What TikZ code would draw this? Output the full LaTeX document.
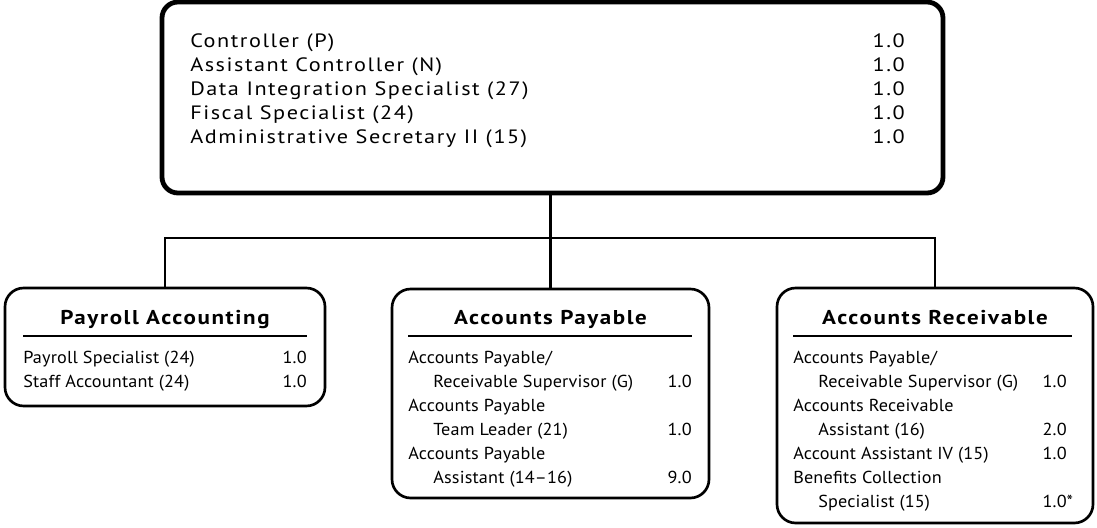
\documentclass[tikz,border=0pt]{standalone}
\usepackage{fontspec}
\setmainfont{PT Sans}
\newfontfamily\headfont[FakeStretch=1.15, LetterSpace=8]{PT Sans}
\newfontfamily\titlefont[FakeStretch=1.15, LetterSpace=8]{PT Sans}
\newfontfamily\rowfont[FakeStretch=1.05, LetterSpace=1]{PT Sans}

\tikzset{
  headbox/.style={draw, line width=3.6pt, rounded corners=12pt, inner sep=0pt},
  unitbox/.style={draw, line width=2pt, rounded corners=14pt, inner sep=0pt},
  link/.style={line width=2pt},
  headtxt/.style={inner sep=0pt, font=\headfont\fontsize{14.5}{16}\selectfont},
  unittitle/.style={inner sep=0pt, anchor=base, font=\titlefont\fontsize{15}{17}\selectfont\bfseries},
  rowtxt/.style={inner sep=0pt, anchor=base west, font=\rowfont\fontsize{13}{15}\selectfont},
  rowval/.style={inner sep=0pt, anchor=base east, font=\rowfont\fontsize{13}{15}\selectfont}
}

\begin{document}
\begin{tikzpicture}[x=0.75pt, y=-0.75pt]
  \useasboundingbox (0,0) rectangle (1097,528);

  % controller's office
  \node[headbox, minimum width=585.75pt, minimum height=143.25pt] (head) at (552.5,97.5) {};
  \node[headtxt, anchor=base west] (h1) at (190,48) {Controller (P)};
  \node[headtxt, anchor=base west] (h2) at (190,72) {Assistant Controller (N)};
  \node[headtxt, anchor=base west] (h3) at (190,96) {Data Integration Specialist (27)};
  \node[headtxt, anchor=base west] (h4) at (190,120) {Fiscal Specialist (24)};
  \node[headtxt, anchor=base west] (h5) at (190,144) {Administrative Secretary II (15)};
  \node[headtxt, anchor=base east] (hv1) at (905,48) {1.0};
  \node[headtxt, anchor=base east] (hv2) at (905,72) {1.0};
  \node[headtxt, anchor=base east] (hv3) at (905,96) {1.0};
  \node[headtxt, anchor=base east] (hv4) at (905,120) {1.0};
  \node[headtxt, anchor=base east] (hv5) at (905,144) {1.0};

  % payroll accounting
  \node[unitbox, minimum width=240pt, minimum height=88.5pt] (payroll) at (165,347) {};
  \node[unittitle] (payt) at (165,324) {Payroll Accounting};
  \draw[line width=0.8pt] (23,336) -- (307,336);
  \node[rowtxt] (p1) at (23,363) {Payroll Specialist (24)};
  \node[rowtxt] (p2) at (23,387) {Staff Accountant (24)};
  \node[rowval] (pv1) at (307,363) {1.0};
  \node[rowval] (pv2) at (307,387) {1.0};

  % accounts payable
  \node[unitbox, minimum width=237.75pt, minimum height=156.75pt] (payable) at (550.5,393.5) {};
  \node[unittitle] (apt) at (550.5,324) {Accounts Payable};
  \draw[line width=0.8pt] (408,336) -- (692,336);
  \node[rowtxt] (a1) at (408,363) {Accounts Payable/};
  \node[rowtxt] (a2) at (433,387) {Receivable Supervisor (G)};
  \node[rowtxt] (a3) at (408,411) {Accounts Payable};
  \node[rowtxt] (a4) at (433,435) {Team Leader (21)};
  \node[rowtxt] (a5) at (408,459) {Accounts Payable};
  \node[rowtxt] (a6) at (433,483) {Assistant (14\textendash16)};
  \node[rowval] (av2) at (692,387) {1.0};
  \node[rowval] (av4) at (692,435) {1.0};
  \node[rowval] (av6) at (692,483) {9.0};

  % accounts receivable
  \node[unitbox, minimum width=237pt, minimum height=176.25pt] (receivable) at (935,405.5) {};
  \node[unittitle] (art) at (935,324) {Accounts Receivable};
  \draw[line width=0.8pt] (793,336) -- (1072,336);
  \node[rowtxt] (r1) at (793,363) {Accounts Payable/};
  \node[rowtxt] (r2) at (818,387) {Receivable Supervisor (G)};
  \node[rowtxt] (r3) at (793,411) {Accounts Receivable};
  \node[rowtxt] (r4) at (818,435) {Assistant (16)};
  \node[rowtxt] (r5) at (793,459) {Account Assistant IV (15)};
  \node[rowtxt] (r6) at (793,483) {Benefits Collection};
  \node[rowtxt] (r7) at (818,507) {Specialist (15)};
  \node[rowval] (rv2) at (1067,387) {1.0};
  \node[rowval] (rv4) at (1067,435) {2.0};
  \node[rowval] (rv5) at (1067,459) {1.0};
  \node[rowval] (rv7) at (1067,507) {1.0\rlap{*}};

  % connectors
  \coordinate (bus) at (0,238);
  \draw[link] (payable.north) -- (payable.north |- head.south);
  \draw[link] (payroll.north) -- (payroll.north |- bus) -- (receivable.north |- bus) -- (receivable.north);
\end{tikzpicture}
\end{document}
